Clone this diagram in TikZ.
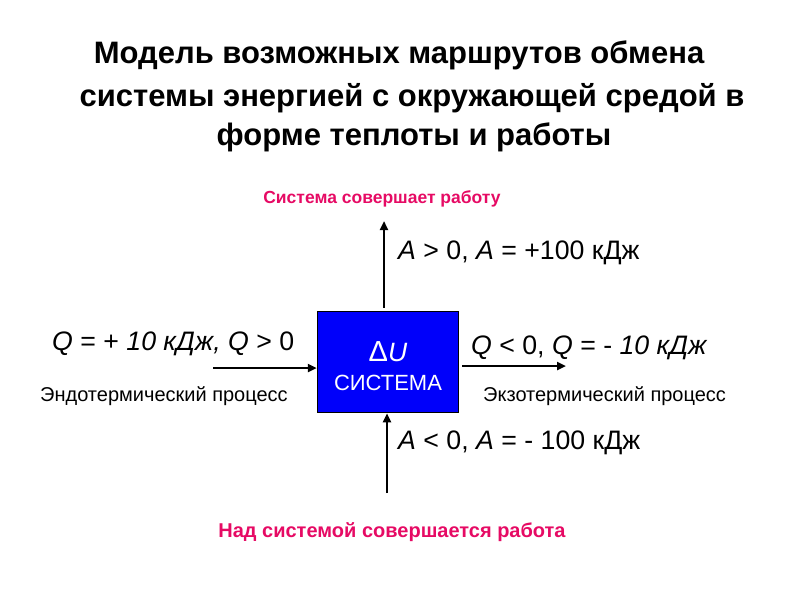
\documentclass[tikz,border=0pt]{standalone}
\usepackage{fontspec}
\setmainfont{Liberation Sans}
\usetikzlibrary{arrows.meta}
\definecolor{pinkc}{RGB}{230,10,100}
\definecolor{boxblue}{RGB}{0,0,250}
\tikzset{
  title/.style={font=\fontsize{31}{36}\selectfont\bfseries, inner sep=0pt, anchor=base},
  lab/.style={font=\fontsize{26.7}{30}\selectfont, inner sep=0pt, anchor=base west},
  proc/.style={font=\fontsize{20}{24}\selectfont, inner sep=0pt, anchor=base west},
  pinklab/.style={font=\fontsize{17.5}{20}\selectfont\bfseries, text=pinkc, inner sep=0pt, anchor=base},
  arr/.style={line width=2.5pt, -{Triangle[length=9pt,width=8pt]}},
  sysbox/.style={draw=black, line width=1.5pt, fill=boxblue, minimum width=141pt, minimum height=101pt, inner sep=0pt}
}
\begin{document}
\begin{tikzpicture}[x=1pt,y=-1pt]
\useasboundingbox (0,0) rectangle (800,600);
\node[title] (t1) at (399,63) {Модель возможных маршрутов обмена};
\node[title] (t2) at (412,106) {системы энергией с окружающей средой в};
\node[title] (t3) at (414,145) {форме теплоты и работы};

\node[sysbox] (sys) at (388,362) {};
\node[text=white, font=\fontsize{26.5}{30}\selectfont, inner sep=0pt, anchor=base] (du) at (388,361) {{\fontsize{29}{30}\selectfont Δ}\textit{U}};
\node[text=white, font=\fontsize{22}{26}\selectfont, inner sep=0pt, anchor=base] (sn) at (388,390) {СИСТЕМА};

\coordinate (upend) at (384,221);
\coordinate (botstart) at (387,493);
\coordinate (lstart) at (213,368);
\coordinate (rend) at (566,366);
\draw[arr] (sys.north -| upend) ++(0,-3) -- (upend);
\draw[arr] (botstart) -- (botstart |- sys.south);
\draw[arr] (lstart) -- (lstart -| sys.west);
\draw[arr] (rend -| sys.east) ++(3,0) -- (rend);

\node[pinklab] (p1) at (382,203) {Система совершает работу};
\node[pinklab, font=\fontsize{20}{24}\selectfont\bfseries] (p2) at (392,537) {Над системой совершается работа};

\node[lab] (a1) at (398,259) {\textit{A} > 0, \textit{A} = +100 кДж};
\node[lab] (q1) at (52,350) {\textit{Q} = + \textit{10 кДж, Q} > 0};
\node[lab] (q2) at (471,354) {\textit{Q} < 0, \textit{Q} = - \textit{10 кДж}};
\node[lab] (a2) at (398,449) {\textit{A} < 0, \textit{A} = - 100 кДж};
\node[proc] (e1) at (40,401) {Эндотермический процесс};
\node[proc] (e2) at (483,401) {Экзотермический процесс};
\end{tikzpicture}
\end{document}
